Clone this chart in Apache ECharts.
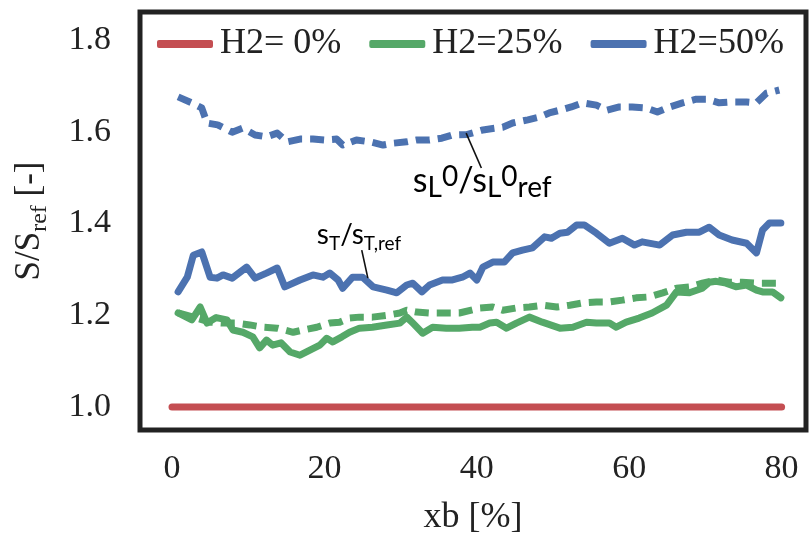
<!DOCTYPE html>
<html>
<head>
<meta charset="utf-8">
<script src="https://cdn.jsdelivr.net/npm/echarts@6/dist/echarts.min.js"></script>
<style>
  html, body { margin: 0; padding: 0; background: #fff; }
  #chart { width: 811px; height: 535px; }
</style>
</head>
<body>
<div id="chart"></div>
<script>
// Tick labels
const xTicks = [0, 20, 40, 60, 80];
const yTicks = [1.0, 1.2, 1.4, 1.6, 1.8];

// Legend entries
const legendNames = ['H2= 0%', 'H2=25%', 'H2=50%'];

// H2 = 0% (reference case, ratio 1)
const h0X = [0, 80];
const h0Y = [1.0, 1.0];

// H2 = 25%, turbulent flame speed ratio sT/sT,ref
const t25X = [0.8, 2.6, 3.7, 4.6, 5.8, 7.2, 8.0, 9.3, 10.6, 11.5, 12.4, 13.2, 14.3, 15.5, 16.8, 18.1, 19.4, 20.3, 21.1, 22.3, 23.3, 24.6, 26.3, 28.2, 29.9, 30.8, 31.6, 32.9, 34.2, 36.0, 37.7, 39.4, 40.4, 41.7, 42.6, 43.9, 45.2, 46.9, 48.6, 50.9, 52.6, 54.4, 55.7, 57.4, 58.3, 59.6, 61.3, 63.0, 64.9, 66.2, 67.9, 69.6, 70.5, 71.4, 72.7, 74.0, 75.4, 76.7, 77.5, 78.8, 79.9];
const t25Y = [1.205, 1.190, 1.218, 1.183, 1.195, 1.190, 1.168, 1.163, 1.153, 1.129, 1.146, 1.135, 1.140, 1.120, 1.113, 1.124, 1.135, 1.150, 1.142, 1.153, 1.163, 1.172, 1.174, 1.179, 1.183, 1.196, 1.183, 1.161, 1.174, 1.172, 1.172, 1.174, 1.174, 1.183, 1.185, 1.172, 1.183, 1.196, 1.185, 1.172, 1.174, 1.185, 1.183, 1.183, 1.174, 1.185, 1.194, 1.205, 1.222, 1.251, 1.249, 1.259, 1.272, 1.274, 1.270, 1.262, 1.266, 1.255, 1.251, 1.251, 1.238];

// H2 = 25%, laminar flame speed ratio sL0/sL0ref
const l25X = [0.8, 2.8, 5.0, 6.7, 8.5, 10.2, 11.9, 13.8, 15.9, 17.2, 19.0, 20.7, 22.0, 23.3, 24.6, 26.3, 28.2, 29.9, 30.8, 32.1, 33.8, 35.5, 37.7, 40.4, 42.1, 43.4, 45.2, 46.9, 48.6, 50.5, 52.2, 53.9, 55.7, 57.4, 59.1, 60.9, 62.6, 64.4, 66.2, 67.9, 69.6, 71.4, 73.1, 74.8, 76.7, 78.4, 79.7];
const l25Y = [1.205, 1.196, 1.185, 1.183, 1.183, 1.179, 1.174, 1.172, 1.163, 1.168, 1.174, 1.183, 1.185, 1.194, 1.196, 1.196, 1.200, 1.205, 1.211, 1.207, 1.205, 1.205, 1.205, 1.216, 1.218, 1.211, 1.216, 1.218, 1.222, 1.218, 1.222, 1.227, 1.229, 1.229, 1.233, 1.238, 1.240, 1.249, 1.259, 1.262, 1.270, 1.277, 1.272, 1.272, 1.270, 1.270, 1.270];

// H2 = 50%, turbulent flame speed ratio sT/sT,ref
const t50X = [0.8, 2.0, 2.8, 3.9, 5.0, 5.9, 6.7, 7.9, 9.8, 10.9, 12.4, 13.8, 14.8, 16.8, 18.5, 19.8, 20.7, 21.8, 22.4, 23.7, 25.0, 26.4, 28.2, 29.5, 30.8, 31.6, 32.8, 33.8, 35.5, 36.8, 38.1, 39.1, 40.0, 40.8, 42.1, 43.6, 44.7, 46.0, 47.3, 48.9, 49.8, 50.9, 51.9, 53.1, 54.1, 55.7, 57.4, 59.1, 60.7, 61.7, 64.0, 65.7, 67.5, 69.2, 70.5, 71.8, 73.5, 75.4, 76.7, 77.5, 78.4, 79.9];
const t50Y = [1.251, 1.283, 1.331, 1.338, 1.283, 1.281, 1.288, 1.281, 1.305, 1.281, 1.292, 1.303, 1.262, 1.277, 1.288, 1.283, 1.292, 1.277, 1.259, 1.283, 1.283, 1.262, 1.255, 1.249, 1.266, 1.270, 1.251, 1.266, 1.277, 1.277, 1.283, 1.292, 1.277, 1.305, 1.316, 1.316, 1.336, 1.342, 1.347, 1.371, 1.368, 1.379, 1.381, 1.397, 1.397, 1.379, 1.357, 1.368, 1.353, 1.360, 1.353, 1.375, 1.381, 1.381, 1.392, 1.375, 1.364, 1.357, 1.336, 1.386, 1.401, 1.401];

// H2 = 50%, laminar flame speed ratio sL0/sL0ref
const l50X = [0.8, 2.6, 3.9, 4.6, 6.0, 7.9, 9.3, 10.9, 12.4, 13.8, 15.1, 16.8, 18.5, 20.0, 21.6, 22.4, 24.2, 26.0, 27.7, 29.0, 30.8, 32.1, 33.8, 35.4, 36.8, 38.7, 40.8, 43.4, 44.7, 46.7, 48.2, 49.5, 50.9, 52.4, 53.9, 55.7, 57.1, 58.7, 60.4, 62.2, 63.7, 65.3, 67.0, 68.8, 70.2, 71.8, 73.5, 75.4, 76.7, 78.0, 79.7];
const l50Y = [1.676, 1.663, 1.652, 1.619, 1.615, 1.599, 1.608, 1.593, 1.589, 1.597, 1.578, 1.584, 1.584, 1.582, 1.584, 1.571, 1.582, 1.578, 1.571, 1.575, 1.578, 1.582, 1.582, 1.586, 1.593, 1.594, 1.604, 1.610, 1.619, 1.626, 1.632, 1.641, 1.647, 1.654, 1.663, 1.658, 1.647, 1.654, 1.654, 1.652, 1.643, 1.654, 1.663, 1.671, 1.671, 1.663, 1.665, 1.665, 1.663, 1.684, 1.691];

const RED = '#C44E52';
const GREEN = '#55A868';
const BLUE = '#4C72B0';
const SERIF = '"Liberation Serif", "DejaVu Serif", serif';
const SANS = 'Lato, "Open Sans", sans-serif';

const zip = (xs, ys) => xs.map((x, i) => [x, ys[i]]);

function lineSeries(name, xs, ys, color, dashed) {
  return {
    name: name,
    type: 'line',
    data: zip(xs, ys),
    showSymbol: false,
    symbol: 'none',
    silent: true,
    z: dashed ? 3 : 4,
    lineStyle: {
      color: color,
      width: 7,
      type: dashed ? [14, 8] : 'solid',
      cap: dashed ? 'butt' : 'round',
      join: 'round'
    },
    itemStyle: { color: color }
  };
}

const chart = echarts.init(document.getElementById('chart'), null, { renderer: 'canvas' });

chart.setOption({
  animation: false,
  backgroundColor: '#fff',
  grid: {
    left: 140, right: 5, top: 12, bottom: 105,
    outerBoundsMode: 'none',
    containLabel: false,
    show: true,
    borderColor: '#222',
    borderWidth: 5,
    backgroundColor: 'transparent'
  },
  legend: {
    data: legendNames.map(n => ({ name: n, icon: 'roundRect' })),
    left: 157,
    top: 26,
    padding: 0,
    itemWidth: 56,
    itemHeight: 8,
    itemGap: 28,
    selectedMode: false,
    textStyle: { fontFamily: SERIF, fontSize: 36, color: '#222', padding: [0, 0, 0, 2] }
  },
  xAxis: {
    type: 'value',
    min: -4.2,
    max: 83.2,
    name: 'xb [%]',
    nameLocation: 'middle',
    nameGap: 70,
    nameTextStyle: { fontFamily: SERIF, fontSize: 36, color: '#222' },
    axisLine: { show: false },
    axisTick: { show: false },
    splitLine: { show: false },
    axisLabel: {
      customValues: xTicks,
      margin: 22,
      fontFamily: SERIF,
      fontSize: 34,
      color: '#222'
    }
  },
  yAxis: {
    type: 'value',
    min: 0.95,
    max: 1.861,
    name: '{m|S/S}{s|ref}{m| [-]}',
    nameLocation: 'middle',
    nameGap: 88,
    nameRotate: 90,
    nameTextStyle: {
      rich: {
        m: { fontFamily: SERIF, fontSize: 35, color: '#222', verticalAlign: 'bottom', padding: [0, 0, 5, 0] },
        s: { fontFamily: SERIF, fontSize: 24, color: '#222', verticalAlign: 'bottom' }
      }
    },
    axisLine: { show: false },
    axisTick: { show: false },
    splitLine: { show: false },
    axisLabel: {
      customValues: yTicks,
      formatter: v => v.toFixed(1),
      margin: 29,
      fontFamily: SERIF,
      fontSize: 34,
      color: '#222'
    }
  },
  series: [
    lineSeries(legendNames[0], h0X, h0Y, RED, false),
    lineSeries(legendNames[1], t25X, t25Y, GREEN, false),
    lineSeries(legendNames[1], l25X, l25Y, GREEN, true),
    lineSeries(legendNames[2], t50X, t50Y, BLUE, false),
    lineSeries(legendNames[2], l50X, l50Y, BLUE, true)
  ]
});

// Annotations: leader lines and labels anchored in data coordinates
const annotations = [
  {
    from: [38.6, 1.597], to: [40.6, 1.521],
    at: [31.6, 1.446],
    text: '{m|s}{sub|L}{sup|0}{m|/s}{sub|L}{sup|0}{sub|ref}',
    rich: {
      m: { fontFamily: SANS, fontSize: 34, color: '#111', verticalAlign: 'bottom', padding: [0, 0, 4, 0] },
      sub: { fontFamily: SANS, fontSize: 28, color: '#111', verticalAlign: 'bottom' },
      sup: { fontFamily: SANS, fontSize: 28, color: '#111', verticalAlign: 'bottom', padding: [0, 0, 11, 0] }
    }
  },
  {
    from: [24.9, 1.342], to: [25.7, 1.281],
    at: [19.0, 1.334],
    text: '{m|s}{sub|T}{m|/s}{sub|T,ref}',
    rich: {
      m: { fontFamily: SANS, fontSize: 28, color: '#111', verticalAlign: 'bottom', padding: [0, 0, 5, 0] },
      sub: { fontFamily: SANS, fontSize: 19, color: '#111', verticalAlign: 'bottom' }
    }
  }
];

const graphics = [];
annotations.forEach(a => {
  const p1 = chart.convertToPixel({ gridIndex: 0 }, a.from);
  const p2 = chart.convertToPixel({ gridIndex: 0 }, a.to);
  const pt = chart.convertToPixel({ gridIndex: 0 }, a.at);
  graphics.push({
    type: 'line',
    silent: true,
    z: 10,
    shape: { x1: p1[0], y1: p1[1], x2: p2[0], y2: p2[1] },
    style: { stroke: '#111', lineWidth: 1.6 }
  });
  graphics.push({
    type: 'text',
    silent: true,
    z: 10,
    x: pt[0],
    y: pt[1],
    style: {
      text: a.text,
      rich: a.rich,
      align: 'left',
      verticalAlign: 'bottom'
    }
  });
});
chart.setOption({ graphic: graphics });
</script>
</body>
</html>
